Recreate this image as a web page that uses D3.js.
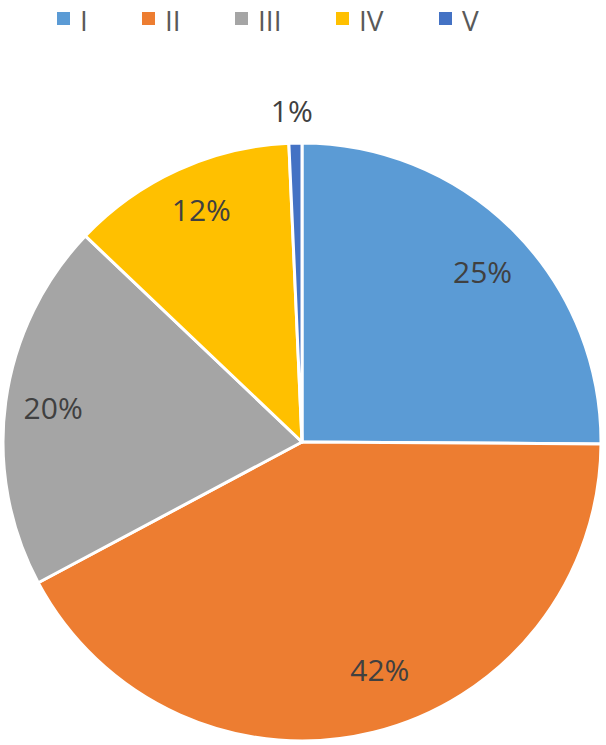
<!DOCTYPE html>
<html><head><meta charset="utf-8">
<script src="https://cdn.jsdelivr.net/npm/d3@7"></script>
<style>body{margin:0;background:#fff}svg{display:block}</style>
</head><body>
<script>
const categories = ["I","II","III","IV","V"];
const values = [25.1, 42.1, 19.9, 12.2, 0.7];
const labels = ["25%","42%","20%","12%","1%"];
const colors = ["#5B9BD5","#ED7D31","#A5A5A5","#FFC000","#4472C4"];

const W=606,H=745;
const svg=d3.select("body").append("svg").attr("width",W).attr("height",H);
const cx=302, cy=442, r=299;
const pie=d3.pie().sort(null).value(d=>d)(values);
const arc=d3.arc().innerRadius(0).outerRadius(r);
const g=svg.append("g").attr("transform",`translate(${cx},${cy})`);
g.selectAll("path").data(pie).join("path").attr("d",arc)
  .attr("fill",(d,i)=>colors[i]).attr("stroke","#fff").attr("stroke-width",3).attr("stroke-linejoin","round");

// label placement (layout only): radius factor and angular nudge in degrees
const labR=[0.83,0.805,0.84,0.845,1.107];
const labShift=[1.5,-5,0,1,-0.5];
function labPos(d,i){
  const a=(d.startAngle+d.endAngle)/2 + labShift[i]*Math.PI/180;
  const rr=r*labR[i];
  return [Math.sin(a)*rr, -Math.cos(a)*rr];
}
g.selectAll("text").data(pie).join("text")
  .attr("transform",(d,i)=>`translate(${labPos(d,i)})`)
  .attr("text-anchor","middle").attr("dy","0.36em")
  .attr("font-family","Open Sans, Liberation Sans, sans-serif").attr("font-size",30)
  .attr("fill","#404040").text((d,i)=>labels[i]);

const legX=[57,142,235,336,439];
const lg=svg.append("g");
categories.forEach((c,i)=>{
  lg.append("rect").attr("x",legX[i]).attr("y",12).attr("width",13).attr("height",13).attr("fill",colors[i]);
  lg.append("text").attr("x",legX[i]+23).attr("y",31)
   .attr("font-family","Open Sans, Liberation Sans, sans-serif").attr("font-size",28)
   .attr("fill","#595959").text(c);
});
</script>
</body></html>
